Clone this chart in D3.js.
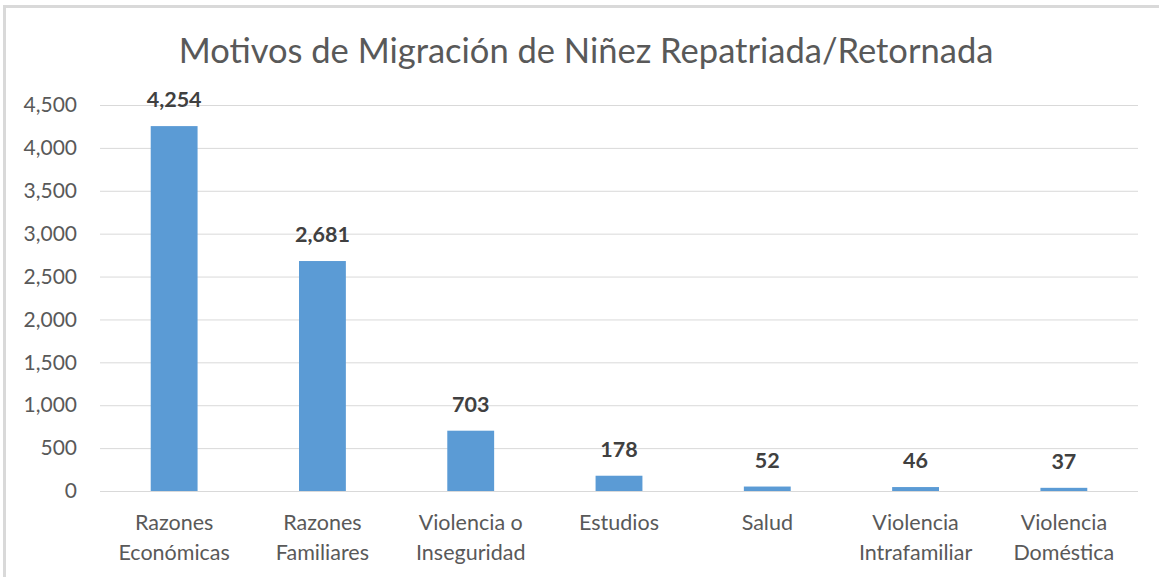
<!DOCTYPE html>
<html>
<head>
<meta charset="utf-8">
<script src="https://cdn.jsdelivr.net/npm/d3@7"></script>
<style>
  body { margin: 0; background: #fff; }
  svg { font-family: Lato, "Open Sans", sans-serif; }
</style>
</head>
<body>
<div id="BarChart"></div>
<script>
var categories = [["Razones", "Económicas"], ["Razones", "Familiares"], ["Violencia o", "Inseguridad"],
                  ["Estudios"], ["Salud"], ["Violencia", "Intrafamiliar"], ["Violencia", "Doméstica"]];
var values = [4254, 2681, 703, 178, 52, 46, 37];
var yTicks = [0, 500, 1000, 1500, 2000, 2500, 3000, 3500, 4000, 4500];
var title = "Motivos de Migración de Niñez Repatriada/Retornada";

var width = 1159, height = 577;
var margin = { top: 105, right: 21, bottom: 86, left: 100 };
var plotW = width - margin.left - margin.right;
var plotH = height - margin.top - margin.bottom;

var svg = d3.select("#BarChart").append("svg")
  .attr("width", width)
  .attr("height", height);

// chart frame
svg.append("rect")
  .attr("x", 4.5).attr("y", 6.5)
  .attr("width", width + 10).attr("height", height + 10)
  .attr("fill", "none")
  .attr("stroke", "#d9d9d9")
  .attr("stroke-width", 3);

svg.append("text")
  .attr("x", 586).attr("y", 63)
  .attr("text-anchor", "middle")
  .style("font-size", "34.5px")
  .style("fill", "#595959")
  .text(title);

var g = svg.append("g")
  .attr("transform", "translate(" + margin.left + "," + margin.top + ")");

var x = d3.scaleBand()
  .domain(d3.range(values.length))
  .range([0, plotW])
  .paddingInner(0.684)
  .paddingOuter(0.342);

var y = d3.scaleLinear()
  .domain([0, 4500])
  .range([plotH, 0]);

// gridlines
var grid = g.append("g")
  .call(d3.axisLeft(y).tickValues(yTicks).tickSize(-plotW).tickFormat(""));
grid.select(".domain").remove();
grid.selectAll("line").attr("stroke", "#d9d9d9");

// y labels
var yAxis = g.append("g")
  .call(d3.axisLeft(y).tickValues(yTicks).tickSize(0).tickPadding(23).tickFormat(d3.format(",")));
yAxis.select(".domain").remove();
yAxis.selectAll("text")
  .style("font-size", "21px")
  .style("font-family", "Lato, sans-serif")
  .attr("fill", "#595959");

// bars
g.selectAll(".bar")
  .data(values)
  .enter()
  .append("rect")
  .attr("class", "bar")
  .attr("x", function(d, i) { return x(i); })
  .attr("y", function(d) { return y(d); })
  .attr("width", x.bandwidth())
  .attr("height", function(d) { return plotH - y(d); })
  .attr("fill", "#5b9bd5");

// baseline
g.append("line")
  .attr("x1", 0).attr("x2", plotW)
  .attr("y1", plotH + 0.5).attr("y2", plotH + 0.5)
  .attr("stroke", "#d9d9d9");

// data labels
g.selectAll(".label")
  .data(values)
  .enter()
  .append("text")
  .attr("class", "label")
  .attr("x", function(d, i) { return x(i) + x.bandwidth() / 2; })
  .attr("y", function(d) { return y(d) - 19; })
  .attr("text-anchor", "middle")
  .style("font-size", "21.5px")
  .style("font-weight", "bold")
  .style("fill", "#404040")
  .text(function(d) { return d3.format(",")(d); });

// category labels
var cat = g.selectAll(".cat")
  .data(categories)
  .enter()
  .append("text")
  .attr("class", "cat")
  .attr("x", function(d, i) { return x(i) + x.bandwidth() / 2; })
  .attr("y", plotH + 39)
  .attr("text-anchor", "middle")
  .style("font-size", "21.5px")
  .style("fill", "#595959");
cat.each(function(d) {
  var t = d3.select(this);
  d.forEach(function(line, k) {
    t.append("tspan")
      .attr("x", t.attr("x"))
      .attr("dy", k === 0 ? 0 : 30)
      .text(line);
  });
});
</script>
</body>
</html>
